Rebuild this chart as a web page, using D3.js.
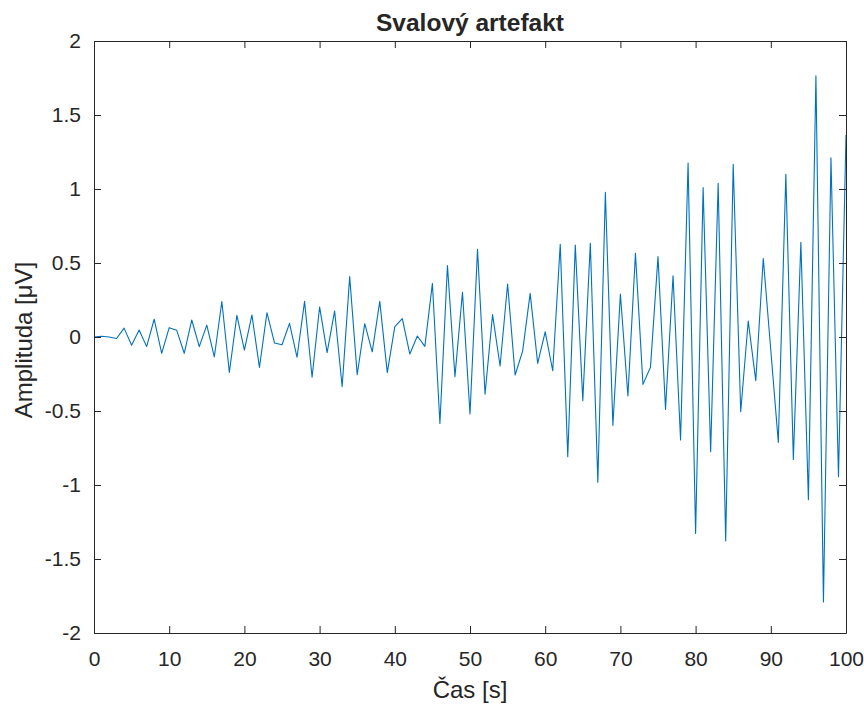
<!DOCTYPE html>
<html>
<head>
<meta charset="utf-8">
<script src="https://cdnjs.cloudflare.com/ajax/libs/d3/7.8.5/d3.min.js"></script>
<style>
    body { margin: 0; background: #fff; }
    text { font-family: "Liberation Sans", Arial, sans-serif; fill: #262626; }
</style>
</head>
<body>
<svg width="864" height="707"></svg>
<script>
'use strict';

// cas [s]
var time = d3.range(0, 101);

// amplituda [uV]
var amplitude = [
    0, 0.005, 0, -0.01, 0.06, -0.056, 0.047, -0.065, 0.12, -0.11,
    0.063, 0.045, -0.11, 0.115, -0.065, 0.08, -0.135, 0.24, -0.24, 0.146,
    -0.088, 0.149, -0.205, 0.164, -0.04, -0.052, 0.092, -0.137, 0.241, -0.272,
    0.203, -0.106, 0.176, -0.336, 0.408, -0.255, 0.09, -0.1, 0.241, -0.241,
    0.07, 0.124, -0.115, 0.007, -0.063, 0.362, -0.584, 0.483, -0.268, 0.302,
    -0.52, 0.592, -0.387, 0.151, -0.196, 0.358, -0.257, -0.095, 0.295, -0.178,
    0.035, -0.228, 0.627, -0.809, 0.622, -0.43, 0.633, -0.982, 0.977, -0.597,
    0.29, -0.399, 0.565, -0.32, -0.205, 0.543, -0.489, 0.414, -0.696, 1.175,
    -1.327, 1.009, -0.775, 1.038, -1.378, 1.167, -0.505, 0.108, -0.295, 0.53,
    -0.09, -0.712, 1.099, -0.827, 0.64, -1.1, 1.765, -1.79, 1.21, -0.944,
    1.365
];

var xTicks = [0, 10, 20, 30, 40, 50, 60, 70, 80, 90, 100];
var yTicks = [-2, -1.5, -1, -0.5, 0, 0.5, 1, 1.5, 2];

var svg = d3.select("svg");
var plotLeft = 94, plotRight = 846, plotTop = 41, plotBottom = 633;

var x = d3.scaleLinear().domain([0, 100]).range([plotLeft, plotRight]);
var y = d3.scaleLinear().domain([-2, 2]).range([plotBottom, plotTop]);

var fmt = function (d) { return String(d); };   // "-0.5" s obycejnym minus
var axisColor = "#262626";

// signal
var line = d3.line()
    .x(function (d, i) { return x(time[i]); })
    .y(function (d) { return y(d); });

svg.append("path")
    .datum(amplitude)
    .attr("d", line)
    .attr("fill", "none")
    .attr("stroke", "#0072BD")
    .attr("stroke-width", 1.1)
    .attr("stroke-linejoin", "round");

// osy - ticky dovnitr, box kolem
function styleAxis(g) {
    g.select(".domain").attr("stroke", axisColor);
    g.selectAll(".tick line").attr("stroke", axisColor);
    g.selectAll(".tick text").style("font-size", "21px").attr("fill", axisColor);
}

svg.append("g")
    .attr("transform", "translate(0," + plotBottom + ")")
    .call(d3.axisBottom(x).tickValues(xTicks).tickFormat(fmt).tickSizeInner(-7).tickSizeOuter(0).tickPadding(18))
    .call(styleAxis);

svg.append("g")
    .attr("transform", "translate(0," + plotTop + ")")
    .call(d3.axisTop(x).tickValues(xTicks).tickFormat("").tickSizeInner(-7).tickSizeOuter(0))
    .call(styleAxis);

svg.append("g")
    .attr("transform", "translate(" + plotLeft + ",0)")
    .call(d3.axisLeft(y).tickValues(yTicks).tickFormat(fmt).tickSizeInner(-7).tickSizeOuter(0).tickPadding(13))
    .call(styleAxis);

svg.append("g")
    .attr("transform", "translate(" + plotRight + ",0)")
    .call(d3.axisRight(y).tickValues(yTicks).tickFormat("").tickSizeInner(-7).tickSizeOuter(0))
    .call(styleAxis);

// popisky
svg.append("text")
    .attr("x", (plotLeft + plotRight) / 2)
    .attr("y", 31)
    .attr("text-anchor", "middle")
    .style("font-size", "24.5px")
    .style("font-weight", "bold")
    .text("Svalový artefakt");

svg.append("text")
    .attr("x", (plotLeft + plotRight) / 2)
    .attr("y", 698)
    .attr("text-anchor", "middle")
    .style("font-size", "24px")
    .text("Čas [s]");

svg.append("text")
    .attr("transform", "translate(32," + ((plotTop + plotBottom) / 2 + 3) + ") rotate(-90)")
    .attr("text-anchor", "middle")
    .style("font-size", "24px")
    .text("Amplituda [μV]");
</script>
</body>
</html>
